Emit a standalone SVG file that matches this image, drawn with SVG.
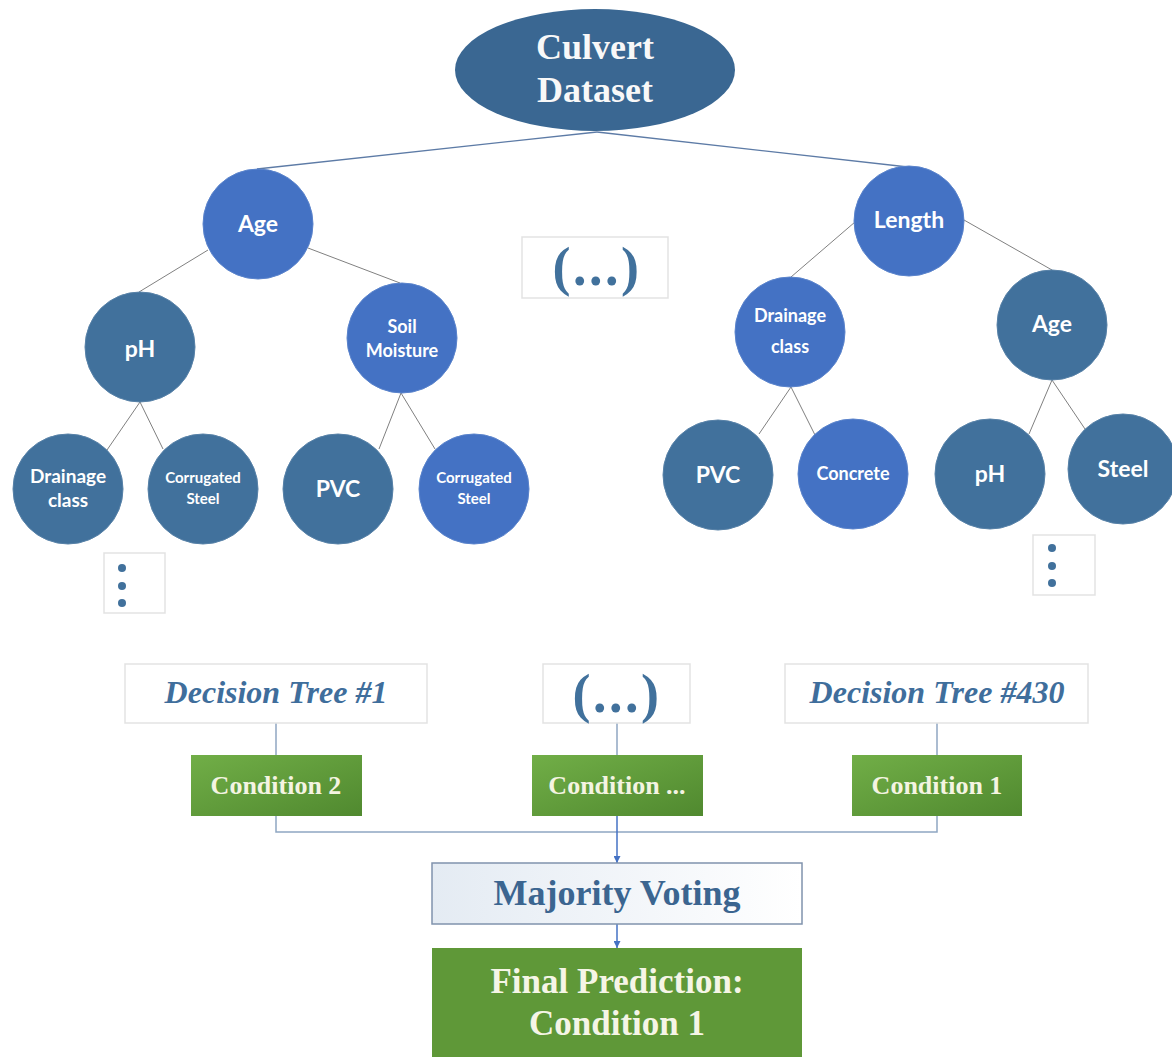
<svg xmlns="http://www.w3.org/2000/svg" width="1172" height="1057" viewBox="0 0 1172 1057">
  <defs>
    <linearGradient id="gCond" x1="0" y1="0" x2="1" y2="1">
      <stop offset="0" stop-color="#71AE47"/>
      <stop offset="1" stop-color="#50892F"/>
    </linearGradient>
    <linearGradient id="gVote" x1="0" y1="0" x2="1" y2="0">
      <stop offset="0" stop-color="#E4EBF3"/>
      <stop offset="1" stop-color="#FFFFFF"/>
    </linearGradient>
    <marker id="arrow" viewBox="0 0 10 10" refX="10" refY="5" markerWidth="7" markerHeight="7" orient="auto" markerUnits="userSpaceOnUse">
      <path d="M0,0 L10,5 L0,10 z" fill="#4472C4"/>
    </marker>
    <style>
      .bright { fill: #4472C4; stroke: #5B84CC; stroke-width: 1; }
      .dark { fill: #41719C; stroke: #5882A8; stroke-width: 1; }
      .lbl { font-family: Lato, "Open Sans", sans-serif; font-weight: bold; fill: #FFFFFF; text-anchor: middle; }
      .tree { stroke: #808080; stroke-width: 1; fill: none; }
      .top { stroke: #5D7BA6; stroke-width: 1.3; fill: none; }
      .link { stroke: #8FA6C2; stroke-width: 1.5; fill: none; }
      .flow { stroke: #4472C4; stroke-width: 1.5; fill: none; }
      .frame { fill: #FFFFFF; stroke: #E3E3E3; stroke-width: 1.5; }
      .serif { font-family: "Liberation Serif", "Times New Roman", serif; font-weight: bold; text-anchor: middle; }
      .dtree { font-style: italic; font-size: 32px; fill: #3F6E9C; }
      .ell { font-size: 54px; fill: #41719C; letter-spacing: 2.5px; }
      .cond { fill: url(#gCond); }
      .condtxt { font-size: 26px; fill: #F4F4E2; }
      .dot { fill: #41719C; }
    </style>
  </defs>

  <!-- connectors -->
  <g id="connectors">
    <line class="top" x1="597" y1="132" x2="257" y2="169"/>
    <line class="top" x1="597" y1="132" x2="908" y2="167"/>
    <line class="tree" x1="208" y1="250" x2="139" y2="292"/>
    <line class="tree" x1="308" y1="248" x2="400" y2="283"/>
    <line class="tree" x1="140" y1="402" x2="107" y2="450"/>
    <line class="tree" x1="140" y1="402" x2="163" y2="449"/>
    <line class="tree" x1="401" y1="393" x2="379" y2="449"/>
    <line class="tree" x1="401" y1="393" x2="435" y2="449"/>
    <line class="tree" x1="855" y1="222" x2="791" y2="277"/>
    <line class="tree" x1="964" y1="220" x2="1052" y2="270"/>
    <line class="tree" x1="791" y1="387" x2="759" y2="434"/>
    <line class="tree" x1="791" y1="387" x2="815" y2="435"/>
    <line class="tree" x1="1052" y1="380" x2="1029" y2="434"/>
    <line class="tree" x1="1052" y1="380" x2="1085" y2="429"/>
    <line class="link" x1="276" y1="723" x2="276" y2="755"/>
    <line class="link" x1="617" y1="723" x2="617" y2="755"/>
    <line class="link" x1="937" y1="723" x2="937" y2="755"/>
    <polyline class="link" points="276,816 276,832 937,832 937,816"/>
    <line class="flow" x1="617" y1="816" x2="617" y2="863" marker-end="url(#arrow)"/>
    <line class="flow" x1="617" y1="924" x2="617" y2="948" marker-end="url(#arrow)"/>
  </g>

  <!-- root -->
  <g id="culvert-dataset">
    <ellipse cx="595" cy="70" rx="140" ry="61" fill="#3A6792"/>
    <text class="serif" x="595" y="59" font-size="36" fill="#F8F8F8">Culvert</text>
    <text class="serif" x="595" y="102" font-size="36" fill="#F8F8F8">Dataset</text>
  </g>

  <!-- tree #1 -->
  <g id="age-left"><circle class="bright" cx="258" cy="224" r="55"/><text class="lbl" x="258" y="232" font-size="23">Age</text></g>
  <g id="ph-left"><circle class="dark" cx="140" cy="347" r="55"/><text class="lbl" x="140" y="357" font-size="23">pH</text></g>
  <g id="soil-moisture"><circle class="bright" cx="402" cy="338" r="55"/><text class="lbl" x="402" y="333" font-size="18">Soil</text><text class="lbl" x="402" y="357" font-size="18">Moisture</text></g>
  <g id="drainage-left"><circle class="dark" cx="68" cy="489" r="55"/><text class="lbl" x="68" y="483" font-size="19">Drainage</text><text class="lbl" x="68" y="507" font-size="19">class</text></g>
  <g id="corrugated-1"><circle class="dark" cx="203" cy="489" r="55"/><text class="lbl" x="203" y="483" font-size="15">Corrugated</text><text class="lbl" x="203" y="504" font-size="15">Steel</text></g>
  <g id="pvc-left"><circle class="dark" cx="338" cy="489" r="55"/><text class="lbl" x="338" y="497" font-size="23">PVC</text></g>
  <g id="corrugated-2"><circle class="bright" cx="474" cy="489" r="55"/><text class="lbl" x="474" y="483" font-size="15">Corrugated</text><text class="lbl" x="474" y="504" font-size="15">Steel</text></g>
  <g id="more-left">
    <rect class="frame" x="104" y="553" width="61" height="60" stroke-width="1"/>
    <circle class="dot" cx="122" cy="568" r="4"/><circle class="dot" cx="122" cy="586" r="4"/><circle class="dot" cx="122" cy="603" r="4"/>
  </g>

  <!-- gap between trees -->
  <g id="more-trees">
    <rect class="frame" x="522" y="237" width="146" height="61" stroke-width="1"/>
    <text class="serif ell" x="597" y="285">(...)</text>
  </g>

  <!-- tree #430 -->
  <g id="length"><circle class="bright" cx="909" cy="221" r="55"/><text class="lbl" x="909" y="228" font-size="23">Length</text></g>
  <g id="drainage-right"><circle class="bright" cx="790" cy="332" r="55"/><text class="lbl" x="790" y="322" font-size="18">Drainage</text><text class="lbl" x="790" y="353" font-size="18">class</text></g>
  <g id="age-right"><circle class="dark" cx="1052" cy="325" r="55"/><text class="lbl" x="1052" y="332" font-size="23">Age</text></g>
  <g id="pvc-right"><circle class="dark" cx="718" cy="475" r="55"/><text class="lbl" x="718" y="483" font-size="23">PVC</text></g>
  <g id="concrete"><circle class="bright" cx="853" cy="474" r="55"/><text class="lbl" x="853" y="480" font-size="18">Concrete</text></g>
  <g id="ph-right"><circle class="dark" cx="990" cy="474" r="55"/><text class="lbl" x="990" y="482" font-size="23">pH</text></g>
  <g id="steel"><circle class="dark" cx="1123" cy="469" r="55"/><text class="lbl" x="1123" y="477" font-size="23">Steel</text></g>
  <g id="more-right">
    <rect class="frame" x="1033" y="535" width="62" height="60" stroke-width="1"/>
    <circle class="dot" cx="1052" cy="548" r="4"/><circle class="dot" cx="1052" cy="566" r="4"/><circle class="dot" cx="1052" cy="583" r="4"/>
  </g>

  <!-- ensemble -->
  <g id="decision-tree-1"><rect class="frame" x="125" y="664" width="302" height="59"/><text class="serif dtree" x="276" y="703">Decision Tree #1</text></g>
  <g id="decision-tree-more"><rect class="frame" x="543" y="664" width="147" height="59"/><text class="serif ell" x="617" y="712">(...)</text></g>
  <g id="decision-tree-430"><rect class="frame" x="785" y="664" width="303" height="59"/><text class="serif dtree" x="937" y="703">Decision Tree #430</text></g>

  <g id="condition-2"><rect class="cond" x="191" y="755" width="171" height="61"/><text class="serif condtxt" x="276" y="794">Condition 2</text></g>
  <g id="condition-more"><rect class="cond" x="532" y="755" width="171" height="61"/><text class="serif condtxt" x="617" y="794">Condition ...</text></g>
  <g id="condition-1"><rect class="cond" x="852" y="755" width="170" height="61"/><text class="serif condtxt" x="937" y="794">Condition 1</text></g>

  <g id="majority-voting">
    <rect x="432" y="863" width="370" height="61" fill="url(#gVote)" stroke="#8093AD" stroke-width="1.5"/>
    <text class="serif" x="617" y="905" font-size="36" fill="#3B6590">Majority Voting</text>
  </g>

  <g id="final-prediction">
    <rect x="432" y="948" width="370" height="115" fill="#5F9838"/>
    <text class="serif" x="617" y="993" font-size="35" fill="#F5F5E6">Final Prediction:</text>
    <text class="serif" x="617" y="1035" font-size="35" fill="#F5F5E6">Condition 1</text>
  </g>
</svg>
